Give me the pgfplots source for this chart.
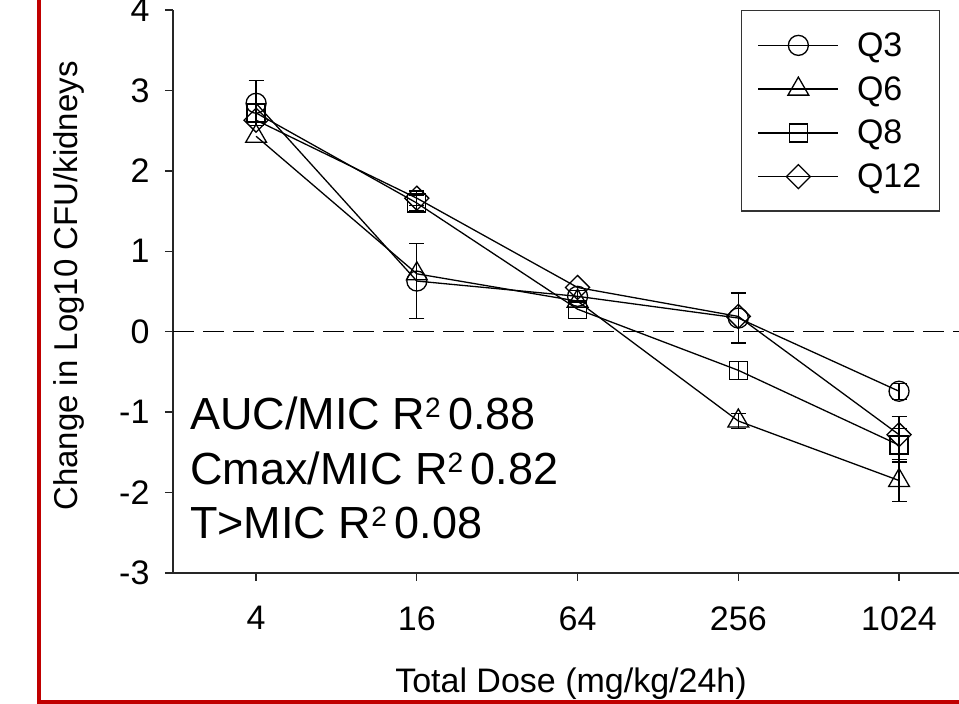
\documentclass[border=0pt]{standalone}
\usepackage{pgfplots}
\pgfplotsset{compat=1.18}
\usepackage{fontspec}
\setmainfont{Liberation Sans}
\definecolor{framered}{RGB}{192,0,0}
\newcommand{\sq}{\raisebox{0.27em}{\fontsize{28}{28}\selectfont 2}}
\begin{document}
\begin{tikzpicture}[x=1pt,y=1pt]
\useasboundingbox (0,0) rectangle (959,704);
\begin{axis}[
  at={(173pt,131pt)}, anchor=south west,
  scale only axis, width=786pt, height=563pt,
  xmin=-0.517, xmax=4.373, ymin=-3, ymax=4,
  axis lines*=left,
  axis line style={line width=1.6pt, black!85},
  tick align=outside, major tick length=8pt,
  tick style={line width=1.3pt, black!85},
  xtick={0,1,2,3,4}, xticklabels={4,16,64,256,1024},
  ytick={-3,-2,-1,0,1,2,3,4},
  /pgf/number format/assume math mode=true,
  ticklabel style={font=\fontsize{34}{40}\selectfont},
  xticklabel style={yshift=-22pt},
  yticklabel style={xshift=-12pt},
  clip=false,
  legend style={at={(0.7226,1)}, anchor=north west, draw=black!80, line width=1.5pt,
    font=\fontsize{34}{40}\selectfont, inner xsep=16pt, inner ysep=20pt, row sep=14.5pt,
    column sep=16pt, cells={anchor=west}},
  legend image code/.code={\draw[mark repeat=2, mark phase=2] plot coordinates {(0pt,0pt) (40pt,0pt) (80pt,0pt)};},
  every axis plot/.append style={black, line width=1.3pt},
]
\addplot[forget plot, dash pattern=on 21pt off 9pt, line width=1.2pt] coordinates {(-0.517,0) (4.373,0)};

\addplot[mark=o, mark size=10pt, mark options={solid}] coordinates {(0,2.84) (1,0.63) (2,0.44) (3,0.17) (4,-0.74)};
\addplot[mark=triangle, mark size=12pt, mark options={solid}] coordinates {(0,2.43) (1,0.72) (2,0.38) (3,-1.11) (4,-1.85)};
\addplot[mark=square, mark size=9pt, mark options={solid}] coordinates {(0,2.72) (1,1.60) (2,0.28) (3,-0.48) (4,-1.41)};
\addplot[mark=square, mark size=8.5pt, mark options={solid, rotate=45}] coordinates {(0,2.63) (1,1.66) (2,0.55) (3,0.19) (4,-1.28)};

\addplot[forget plot, draw=none, mark=none, error bars/.cd, y dir=both, y explicit,
  error bar style={line width=1.3pt, black},
  error mark options={rotate=90, mark size=7.5pt, line width=1.3pt, black}]
  coordinates {
  (0,2.84) +- (0,0.28)
  (1,0.63) +- (0,0.47)
  (2,0.44) +- (0,0.07)
  (3,0.17) +- (0,0.31)
  (4,-0.74) +- (0,0.10)
  (3,-1.11) +- (0,0.09)
  (4,-1.85) +- (0,0.26)
  (1,1.60) +- (0,0.10)
  (3,-0.48) +- (0,0.11)
  (4,-1.41) +- (0,0.21)
  (1,1.66) +- (0,0.09)
  (4,-1.28) +- (0,0.23)
  };
\legend{Q3,Q6,Q8,Q12}
\end{axis}
\node[rotate=90, font=\fontsize{33}{40}\selectfont] at (69,418) {Change in Log10 CFU/kidneys};
\node[anchor=base, font=\fontsize{34}{40}\selectfont] at (571,11) {Total Dose (mg/kg/24h)};
\begin{scope}[every node/.style={anchor=base west, inner sep=0pt, font=\fontsize{45}{50}\selectfont}]
\node at (190,274) {AUC/MIC R\sq\,0.88};
\node at (190,219) {Cmax/MIC R\sq\,0.82};
\node at (190,165) {T>MIC R\sq\,0.08};
\end{scope}
\draw[framered, line width=4pt] (39,710) -- (39,2) -- (965,2);
\end{tikzpicture}
\end{document}
